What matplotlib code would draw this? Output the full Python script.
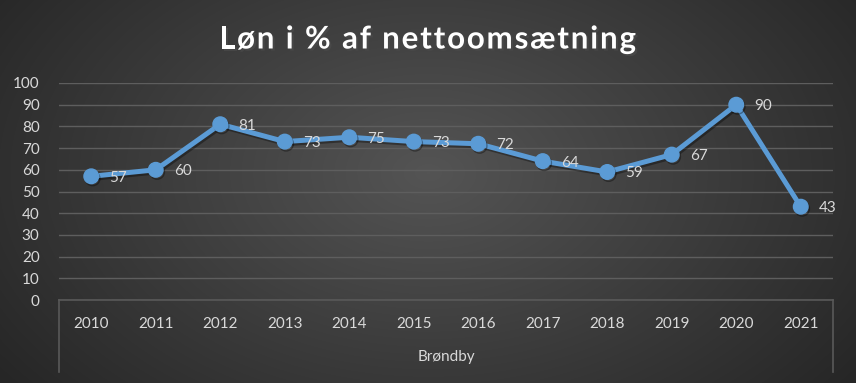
import numpy as np
import matplotlib
matplotlib.use("Agg")
import matplotlib.pyplot as plt
import matplotlib.patheffects as pe
from matplotlib.lines import Line2D
from matplotlib.font_manager import FontProperties

years = ["2010", "2011", "2012", "2013", "2014", "2015",
         "2016", "2017", "2018", "2019", "2020", "2021"]
values = [57, 60, 81, 73, 75, 73, 72, 64, 59, 67, 90, 43]
group_label = "Brøndby"
title = "Løn i % af nettoomsætning"

W, H = 856, 383
fig = plt.figure(figsize=(W / 100, H / 100), dpi=100)
plt.rcParams['font.family'] = ['Lato', 'DejaVu Sans']

# radial gradient background
bg = fig.add_axes([0, 0, 1, 1])
yy, xx = np.mgrid[0:H, 0:W]
r = np.sqrt(((xx - W * 0.5) / (W * 0.62)) ** 2 + ((yy - H * 0.45) / (H * 0.9)) ** 2)
shade = 0.33 - 0.18 * np.clip(r, 0, 1)
bg.imshow(np.dstack([shade] * 3), aspect='auto', extent=[0, 1, 0, 1])
bg.axis('off')

left, right = 59 / W, 833 / W
bottom, top = 1 - 300 / H, 1 - 83 / H
ax = fig.add_axes([left, bottom, right - left, top - bottom])
ax.patch.set_alpha(0)

x = np.arange(len(years))
ax.plot(x, values, color='#5B9BD5', lw=3.6, marker='o', ms=10.5,
        solid_capstyle='round', zorder=3,
        path_effects=[pe.SimpleLineShadow(offset=(1, -1.5), alpha=0.35), pe.Normal()])
for xi, v in zip(x, values):
    ax.annotate(str(v), (xi, v), xytext=(13, -1), textcoords='offset points',
                ha='left', va='center', color='#d9d9d9', fontsize=11)

ax.set_xlim(-0.5, len(years) - 0.5)
ax.set_ylim(0, 100)
ax.set_yticks(range(0, 101, 10))
ax.grid(axis='y', color='#5e5e5e', lw=1)
ax.set_axisbelow(True)
for s in ax.spines.values():
    s.set_visible(False)
ax.tick_params(axis='y', length=0, colors='#d9d9d9', labelsize=11, pad=14)
ax.set_xticks(x)
ax.set_xticklabels(years)
ax.tick_params(axis='x', length=0, colors='#d9d9d9', labelsize=11, pad=12)

# multi-level category frame
lc = '#595959'
fig.add_artist(Line2D([left, right], [bottom, bottom], color=lc, lw=1.2))
fig.add_artist(Line2D([left, left], [bottom, 1 - 372 / H], color=lc, lw=1.2))
fig.add_artist(Line2D([right, right], [bottom, 1 - 372 / H], color=lc, lw=1.2))
fig.text((left + right) / 2, 1 - 357 / H, group_label, ha='center', va='center',
         color='#d9d9d9', fontsize=11)

# title with letter spacing, drawn char by char
tprop = FontProperties(family=['Lato', 'DejaVu Sans'], weight='bold', size=22.5)
renderer = fig.canvas.get_renderer()
widths = [renderer.get_text_width_height_descent(c, tprop, ismath=False)[0] for c in title]
target_w, x0 = 417, 219
spacing = (target_w - sum(widths)) / (len(title) - 1)
cx = x0
for c, w in zip(title, widths):
    if c != ' ':
        fig.text(cx / W, 1 - 48.5 / H, c, ha='left', va='baseline', color='white',
                 fontproperties=tprop,
                 path_effects=[pe.withSimplePatchShadow(offset=(1.5, -1.5), alpha=0.6)])
    cx += w + spacing

fig.savefig("out.png", dpi=100)
